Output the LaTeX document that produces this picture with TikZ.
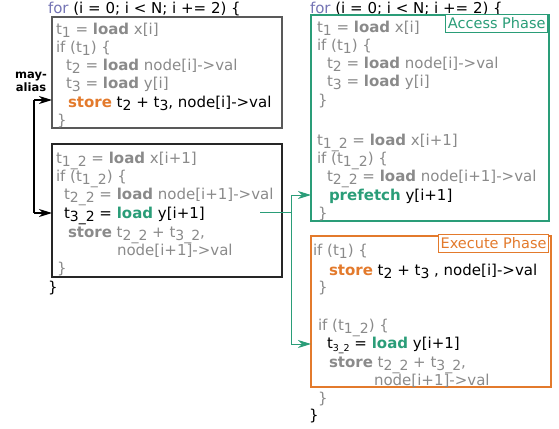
\documentclass[tikz,border=0pt]{standalone}
\usepackage{fontspec}
\setmainfont{DejaVu Sans}
\usetikzlibrary{arrows.meta}
\definecolor{cgray}{HTML}{8A8A8A}
\definecolor{cgreen}{HTML}{2A9D78}
\definecolor{corange}{HTML}{E37A2C}
\definecolor{cpurple}{HTML}{7474B4}
\newcommand\codefont{\fontsize{15bp}{18bp}\selectfont}
\newcommand\tsub[1]{\raisebox{-3.5bp}{\fontsize{14bp}{14bp}\selectfont #1}}
\newcommand\tsubs[1]{\raisebox{-3.5bp}{\fontsize{9.5bp}{9.5bp}\selectfont #1}}
\newcommand\kw[1]{\textbf{#1}}
\begin{document}
\begin{tikzpicture}[x=1bp,y=-1bp,
  ln/.style={anchor=base west, inner sep=0, outer sep=0, font=\codefont, text=cgray},
  boxl/.style={draw=#1, line width=1.1bp, inner sep=0, outer sep=0, anchor=north west},
  phase/.style={draw=#1, fill=white, text=#1, line width=1bp, inner xsep=2bp, inner ysep=0, minimum height=18bp, anchor=north east, font=\fontsize{14.5bp}{16bp}\selectfont},
  arrk/.style={-{Stealth[length=13bp,width=8bp,inset=4bp]}, line width=1.3bp}
]
\useasboundingbox (0,0) rectangle (559,428);

% ---------- left column ----------
\node[ln, text=black] (lfor) at (48,13) {\textcolor{cpurple}{for} (i = 0; i < N; i += 2) \{};
\node[boxl=black!65, minimum width=230bp, minimum height=111bp] (b1) at (52,17) {};
\node[ln] (l1) at (56,34) {t\tsub{1} = \kw{load} x[i]};
\node[ln] (l2) at (56,52) {if (t\tsub{1}) \{};
\node[ln] (l3) at (66,70) {t\tsub{2} = \kw{load} node[i]->val};
\node[ln] (l4) at (66,88) {t\tsub{3} = \kw{load} y[i]};
\node[ln, text=black] (l5) at (68,107) {\textcolor{corange}{\kw{store}} t\tsub{2} + t\tsub{3}, node[i]->val};
\node[ln] (l6) at (57,125) {\}};

\node[boxl=black!85, minimum width=230bp, minimum height=133bp] (b2) at (52,144) {};
\node[ln] (m1) at (56,163) {t\tsub{1\_2} = \kw{load} x[i+1]};
\node[ln] (m2) at (56,181) {if (t\tsub{1\_2}) \{};
\node[ln] (m3) at (64,199) {t\tsub{2\_2} = \kw{load} node[i+1]->val};
\node[ln, text=black] (m4) at (64,218) {t\tsub{3\_2} = \textcolor{cgreen}{\kw{load}} y[i+1]};
\node[ln] (m5) at (68,237) {\kw{store} t\tsub{2\_2} + t\tsub{3\_2},};
\node[ln] (m6) at (117,255) {node[i+1]->val};
\node[ln] (m7) at (57,273) {\}};
\node[ln, text=black] (lend) at (48,292) {\}};

\node[font=\bfseries\fontsize{11.5bp}{13.5bp}\selectfont, align=center, inner sep=0] (alias) at (31,82) {may-\\alias};

\coordinate (aTop) at (34,100);
\coordinate (aBot) at (34,213);
\draw[line width=1.3bp] (aTop) -- (aBot);
\draw[arrk] (aTop) -- (b1.west |- aTop);
\draw[arrk] (aBot) -- (b2.west |- aBot);

% ---------- right column ----------
\node[ln, text=black] (rfor) at (310,13) {\textcolor{cpurple}{for} (i = 0; i < N; i += 2) \{};
\node[boxl=cgreen, minimum width=238bp, minimum height=206bp] (acc) at (311,15) {};
\node[phase=cgreen] (accl) at (548,14) {Access Phase};
\node[ln] (r1) at (317,32) {t\tsub{1} = \kw{load} x[i]};
\node[ln] (r2) at (317,50) {if (t\tsub{1}) \{};
\node[ln] (r3) at (327,68) {t\tsub{2} = \kw{load} node[i]->val};
\node[ln] (r4) at (327,86) {t\tsub{3} = \kw{load} y[i]};
\node[ln] (r5) at (318,105) {\}};
\node[ln] (r6) at (317,145) {t\tsub{1\_2} = \kw{load} x[i+1]};
\node[ln] (r7) at (317,163) {if (t\tsub{1\_2}) \{};
\node[ln] (r8) at (327,181) {t\tsub{2\_2} = \kw{load} node[i+1]->val};
\node[ln, text=black] (r9) at (329,200) {\textcolor{cgreen}{\kw{prefetch}} y[i+1]};
\node[ln] (r10) at (318,218) {\}};

\node[boxl=corange, minimum width=240bp, minimum height=151bp] (exe) at (311,236) {};
\node[phase=corange] (exel) at (549,234) {Execute Phase};
\node[ln] (e1) at (313,255) {if (t\tsub{1}) \{};
\node[ln, text=black] (e2) at (329,275) {\textcolor{corange}{\kw{store}} t\tsub{2} + t\tsub{3} , node[i]->val};
\node[ln] (e3) at (318,292) {\}};
\node[ln] (e4) at (318,330) {if (t\tsub{1\_2}) \{};
\node[ln, text=black] (e5) at (327,348) {t\tsubs{3\_2} = \textcolor{cgreen}{\kw{load}} y[i+1]};
\node[ln] (e6) at (329,367) {\kw{store} t\tsub{2\_2} + t\tsub{3\_2},};
\node[ln] (e7) at (374,385) {node[i+1]->val};
\node[ln] (e8) at (318,403) {\}};
\node[ln, text=black] (rend) at (309,420) {\}};

% green connector
\coordinate (gS) at (260,212);
\coordinate (gJ) at (291,212);
\coordinate (gT) at (291,195);
\coordinate (gB) at (291,344);
\draw[cgreen, line width=1bp] (gS) -- (gJ);
\draw[cgreen, line width=1bp] (gT) -- (gB);
\draw[arrk, cgreen, line width=1bp] (gT) -- (acc.west |- gT);
\draw[arrk, cgreen, line width=1bp] (gB) -- (exe.west |- gB);
\end{tikzpicture}
\end{document}
